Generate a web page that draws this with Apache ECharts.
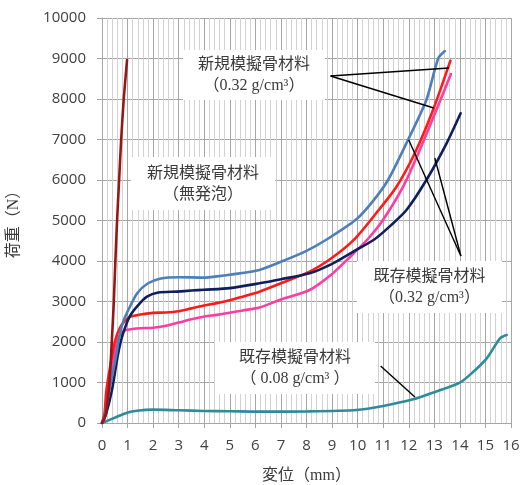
<!DOCTYPE html>
<html>
<head>
<meta charset="utf-8">
<script src="https://cdn.jsdelivr.net/npm/echarts@6/dist/echarts.min.js"></script>
<style>
  html, body { margin: 0; padding: 0; background: #fff; }
  #chart { width: 522px; height: 485px; }
</style>
</head>
<body>
<div id="chart"></div>
<script>
// Load–displacement curves: displacement (mm) vs load (N)
const xTicks = [0, 16, 1];      // min, max, interval (mm)
const yTicks = [0, 10000, 1000]; // min, max, interval (N)

// 新規模擬骨材料（無発泡）
const newSolid = [[0,0],[0.1,120],[0.17,320],[0.29,990],[0.38,1980],[0.46,2960],[0.52,3950],[0.59,5000],[0.67,6000],[0.75,7000],[0.85,8000],[0.98,8960]];

// 新規模擬骨材料（0.32 g/cm³）
const newFoamA = [[0,0],[0.1,150],[0.29,815],[0.55,1640],[0.65,2050],[0.8,2450],[1.0,2750],[1.37,3200],[1.8,3450],[2.3,3570],[3,3600],[4,3590],[4.5,3620],[5,3660],[6.16,3780],[7,3980],[8,4250],[8.82,4543],[9.95,5030],[10.6,5480],[11.19,6000],[11.97,6988],[12.69,7975],[13.15,9000],[13.41,9185]];
const newFoamB = [[0,0],[0.1,250],[0.17,800],[0.39,1640],[0.52,2050],[0.7,2350],[0.9,2520],[1.1,2620],[1.5,2680],[2,2720],[2.5,2730],[3,2760],[3.5,2830],[4,2900],[4.5,2960],[5,3030],[5.5,3120],[6.16,3243],[7,3450],[8.12,3737],[9,4080],[9.88,4540],[10.73,5185],[11.52,5835],[12.24,6667],[12.95,7728],[13.63,8946]];

// 既存模擬骨材料（0.32 g/cm³）
const oldFoamA = [[0,0],[0.1,150],[0.24,800],[0.48,1640],[0.61,2050],[0.8,2250],[0.98,2300],[1.5,2340],[2,2350],[2.5,2400],[3,2480],[3.5,2560],[4,2630],[4.5,2670],[5,2720],[5.5,2780],[6.16,2850],[7,3050],[8.12,3284],[9,3680],[9.7,4100],[10.4,4543],[10.99,5012],[11.78,5835],[12.43,6741],[13.08,7728],[13.65,8617]];
const oldFoamB = [[0,0],[0.15,200],[0.39,815],[0.61,1640],[0.75,2050],[0.9,2350],[1.1,2650],[1.4,2900],[1.76,3120],[2.2,3220],[2.94,3245],[3.5,3270],[4,3290],[5,3330],[6.16,3449],[7,3550],[8.12,3696],[9,3930],[9.8,4220],[10.65,4530],[11.3,4880],[11.91,5259],[12.69,6000],[13.48,6906],[14.03,7647]];

// 既存模擬骨材料（0.08 g/cm³）
const oldLight = [[0,0],[0.59,156],[0.98,255],[1.37,304],[2,330],[3,313],[4,297],[5,290],[6.16,280],[8,285],[9.95,321],[11,420],[12.17,584],[13,760],[14,996],[14.5,1250],[15.05,1597],[15.57,2091],[15.83,2173]];

// Callout leader lines, in axis units [x1, y1, x2, y2]
const leaders = [
  [8.94, 8568, 13.57, 8765],
  [8.94, 8568, 12.98, 7778],
  [12.0, 6988, 14.04, 4123],
  [13.02, 6543, 14.04, 4123],
  [10.9, 1407, 12.24, 642]
];

// Callout boxes: [left, top, width, height, line1, line2]
const callouts = [
  [183, 50, 142, 50, '新規模擬骨材料', '（0.32 g/cm³）'],
  [131, 157, 144, 53, '新規模擬骨材料', '（無発泡）'],
  [357, 261, 145, 52, '既存模擬骨材料', '（0.32 g/cm³）'],
  [215, 342, 160, 52, '既存模擬骨材料', '（ 0.08 g/cm³ ）']
];

const serif = '"Liberation Serif", "Noto Sans CJK JP", serif';
const sans = '"Open Sans", "Noto Sans", sans-serif';

function curve(name, data, color) {
  return {
    name, type: 'line', data,
    showSymbol: false, symbol: 'none',
    smooth: 0.25,
    lineStyle: { color, width: 2.6, cap: 'round', join: 'round' },
    itemStyle: { color },
    animation: false
  };
}

const graphics = [];
callouts.forEach(([l, t, w, h, a, b]) => {
  graphics.push({
    type: 'rect', left: l, top: t, z: 50,
    shape: { width: w, height: h },
    style: { fill: '#ffffff' }
  });
  graphics.push({
    type: 'text', z: 51,
    x: l + w / 2, y: t + h / 2 - 10,
    style: { text: a, font: '16px ' + serif, fill: '#3a3a3a', align: 'center', verticalAlign: 'middle' }
  });
  graphics.push({
    type: 'text', z: 51,
    x: l + w / 2, y: t + h / 2 + 11,
    style: { text: b, font: '16px ' + serif, fill: '#3a3a3a', align: 'center', verticalAlign: 'middle' }
  });
});

const chart = echarts.init(document.getElementById('chart'), null, { renderer: 'canvas' });
chart.setOption({
  animation: false,
  backgroundColor: '#ffffff',
  grid: { left: 102, right: 11, top: 18, bottom: 62, containLabel: false, outerBoundsMode: 'none' },
  xAxis: {
    type: 'value', min: xTicks[0], max: xTicks[1], interval: xTicks[2],
    name: '変位（mm）', nameLocation: 'middle', nameGap: 45,
    nameTextStyle: { color: '#3a3a3a', fontFamily: serif, fontSize: 16 },
    axisLine: { show: true, onZero: false, lineStyle: { color: '#a6a6a6', width: 1 } },
    axisTick: { show: true, length: 5, lineStyle: { color: '#a6a6a6' } },
    axisLabel: { margin: 15, color: '#404040', fontFamily: sans, fontSize: 15, formatter: v => String(v) },
    splitLine: { show: true, lineStyle: { color: '#a6a6a6', width: 1 } },
    minorTick: { show: false, splitNumber: 5 },
    minorSplitLine: { show: true, lineStyle: { color: '#d2d2d2', width: 1 } }
  },
  yAxis: {
    type: 'value', min: yTicks[0], max: yTicks[1], interval: yTicks[2],
    name: '荷重（N）', nameLocation: 'middle', nameGap: 80, nameRotate: 90,
    nameTextStyle: { color: '#3a3a3a', fontFamily: serif, fontSize: 16 },
    axisLine: { show: true, lineStyle: { color: '#a6a6a6', width: 1 } },
    axisTick: { show: true, length: 5, lineStyle: { color: '#a6a6a6' } },
    axisLabel: { margin: 16, color: '#404040', fontFamily: sans, fontSize: 15, formatter: v => String(v) },
    splitLine: { show: true, lineStyle: { color: '#a6a6a6', width: 1 } }
  },
  series: [
    curve('既存模擬骨材料（0.08 g/cm³）', oldLight, '#2e8b9a'),
    curve('既存模擬骨材料（0.32 g/cm³）A', oldFoamA, '#ff3ca0'),
    curve('新規模擬骨材料（0.32 g/cm³）B', newFoamB, '#ff1a1a'),
    curve('既存模擬骨材料（0.32 g/cm³）B', oldFoamB, '#0f1f5e'),
    curve('新規模擬骨材料（0.32 g/cm³）A', newFoamA, '#4d7fb8'),
    curve('新規模擬骨材料（無発泡）', newSolid, '#9a1515'),
    {
      name: 'leaders', type: 'line', data: [], symbol: 'none',
      markLine: {
        silent: true, symbol: ['none', 'none'], animation: false,
        label: { show: false },
        lineStyle: { color: '#000000', width: 1.4, type: 'solid' },
        data: leaders.map(([x1, y1, x2, y2]) => [{ coord: [x1, y1] }, { coord: [x2, y2] }])
      }
    }
  ],
  graphic: graphics
});
</script>
</body>
</html>
